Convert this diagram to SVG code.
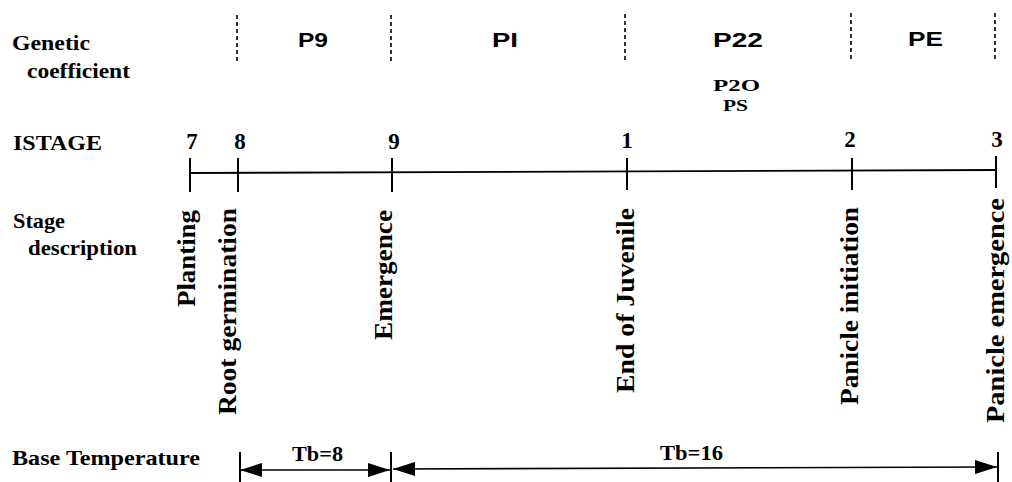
<svg xmlns="http://www.w3.org/2000/svg" width="1012" height="482" viewBox="0 0 1012 482">
  <style>
    .lbl { font-family: "Liberation Serif", "Times New Roman", serif; font-weight: bold; font-size: 21px; fill: #000; }
    .sub { font-family: "Liberation Serif", "Times New Roman", serif; font-weight: bold; font-size: 17px; fill: #000; }
    .num { font-family: "Liberation Serif", "Times New Roman", serif; font-weight: bold; font-size: 23px; fill: #000; text-anchor: middle; }
    .coef { font-family: "Liberation Sans", Arial, sans-serif; font-weight: bold; font-size: 21px; fill: #000; }
    .vert { font-family: "Liberation Serif", "Times New Roman", serif; font-weight: bold; font-size: 26px; fill: #000; }
    .sep { stroke: #000; stroke-width: 1.6; stroke-dasharray: 4 3; fill: none; }
    .axis { stroke: #000; stroke-width: 1.8; fill: none; }
    .tick { stroke: #000; stroke-width: 2; fill: none; }
    .dim { stroke: #000; stroke-width: 1.6; fill: none; marker-start: url(#head); marker-end: url(#head); }
  </style>
  <defs>
    <marker id="head" markerUnits="userSpaceOnUse" markerWidth="22" markerHeight="14" refX="22" refY="7" orient="auto-start-reverse">
      <path d="M0,0 L22,7 L0,14 z" fill="#000"/>
    </marker>
  </defs>
  <rect width="1012" height="482" fill="#fff"/>

  <!-- row headings -->
  <g id="row-headings">
    <text class="lbl" x="12" y="50" textLength="78" lengthAdjust="spacingAndGlyphs">Genetic</text>
    <text class="lbl" x="27" y="78" textLength="103" lengthAdjust="spacingAndGlyphs">coefficient</text>
    <text class="lbl" x="13" y="150" textLength="89" lengthAdjust="spacingAndGlyphs">ISTAGE</text>
    <text class="lbl" x="13" y="228" textLength="52" lengthAdjust="spacingAndGlyphs">Stage</text>
    <text class="lbl" x="28" y="255" textLength="109" lengthAdjust="spacingAndGlyphs">description</text>
    <text class="lbl" x="12" y="465" textLength="188" lengthAdjust="spacingAndGlyphs">Base Temperature</text>
  </g>

  <!-- genetic coefficient phases -->
  <g id="coefficient-separators">
    <line class="sep" x1="237" y1="15" x2="237" y2="63"/>
    <line class="sep" x1="391" y1="15" x2="391" y2="62"/>
    <line class="sep" x1="625" y1="14" x2="625" y2="62"/>
    <line class="sep" x1="851" y1="13" x2="851" y2="59"/>
    <line class="sep" x1="995" y1="13" x2="995" y2="59"/>
  </g>
  <g id="coef-P9"><text class="coef" x="298" y="47" textLength="30" lengthAdjust="spacingAndGlyphs">P9</text></g>
  <g id="coef-PI"><text class="coef" x="492" y="47" textLength="26" lengthAdjust="spacingAndGlyphs">PI</text></g>
  <g id="coef-P22">
    <text class="coef" x="713" y="47" textLength="50" lengthAdjust="spacingAndGlyphs">P22</text>
    <text class="sub" x="713" y="91" textLength="47" lengthAdjust="spacingAndGlyphs">P2O</text>
    <text class="sub" x="723" y="111" textLength="25" lengthAdjust="spacingAndGlyphs">PS</text>
  </g>
  <g id="coef-PE"><text class="coef" x="908" y="46" textLength="35" lengthAdjust="spacingAndGlyphs">PE</text></g>

  <!-- ISTAGE timeline -->
  <g id="timeline">
    <line class="axis" x1="190" y1="173" x2="996" y2="170"/>
    <line class="tick" x1="190" y1="158" x2="190" y2="192"/>
    <line class="tick" x1="238" y1="158" x2="238" y2="192"/>
    <line class="tick" x1="392" y1="158" x2="392" y2="192"/>
    <line class="tick" x1="627" y1="158" x2="627" y2="190"/>
    <line class="tick" x1="852" y1="158" x2="852" y2="190"/>
    <line class="tick" x1="996" y1="156" x2="996" y2="188"/>
  </g>

  <g id="stage-7">
    <text class="num" x="192" y="149">7</text>
    <text class="vert" transform="translate(195,307) rotate(-90)" textLength="97" lengthAdjust="spacingAndGlyphs">Planting</text>
  </g>
  <g id="stage-8">
    <text class="num" x="240" y="149">8</text>
    <text class="vert" transform="translate(236,415) rotate(-90)" textLength="207" lengthAdjust="spacingAndGlyphs">Root germination</text>
  </g>
  <g id="stage-9">
    <text class="num" x="394" y="149">9</text>
    <text class="vert" transform="translate(392,340) rotate(-90)" textLength="130" lengthAdjust="spacingAndGlyphs">Emergence</text>
  </g>
  <g id="stage-1">
    <text class="num" x="627" y="148">1</text>
    <text class="vert" transform="translate(634,393) rotate(-90)" textLength="185" lengthAdjust="spacingAndGlyphs">End of Juvenile</text>
  </g>
  <g id="stage-2">
    <text class="num" x="850" y="147">2</text>
    <text class="vert" transform="translate(858,405) rotate(-90)" textLength="198" lengthAdjust="spacingAndGlyphs">Panicle initiation</text>
  </g>
  <g id="stage-3">
    <text class="num" x="997" y="147">3</text>
    <text class="vert" transform="translate(1004,423) rotate(-90)" textLength="225" lengthAdjust="spacingAndGlyphs">Panicle emergence</text>
  </g>

  <!-- base temperature spans -->
  <g id="connectors">
    <line class="tick" x1="240" y1="452" x2="240" y2="482"/>
    <line class="tick" x1="391" y1="452" x2="391" y2="482"/>
    <line class="tick" x1="998" y1="452" x2="998" y2="482"/>
    <line class="dim" x1="240" y1="470" x2="390" y2="470"/>
    <line class="dim" x1="393" y1="469" x2="997" y2="467"/>
  </g>
  <g id="tb-8"><text class="lbl" x="292" y="461" textLength="51" lengthAdjust="spacingAndGlyphs">Tb=8</text></g>
  <g id="tb-16"><text class="lbl" x="660" y="460" textLength="63" lengthAdjust="spacingAndGlyphs">Tb=16</text></g>
</svg>
